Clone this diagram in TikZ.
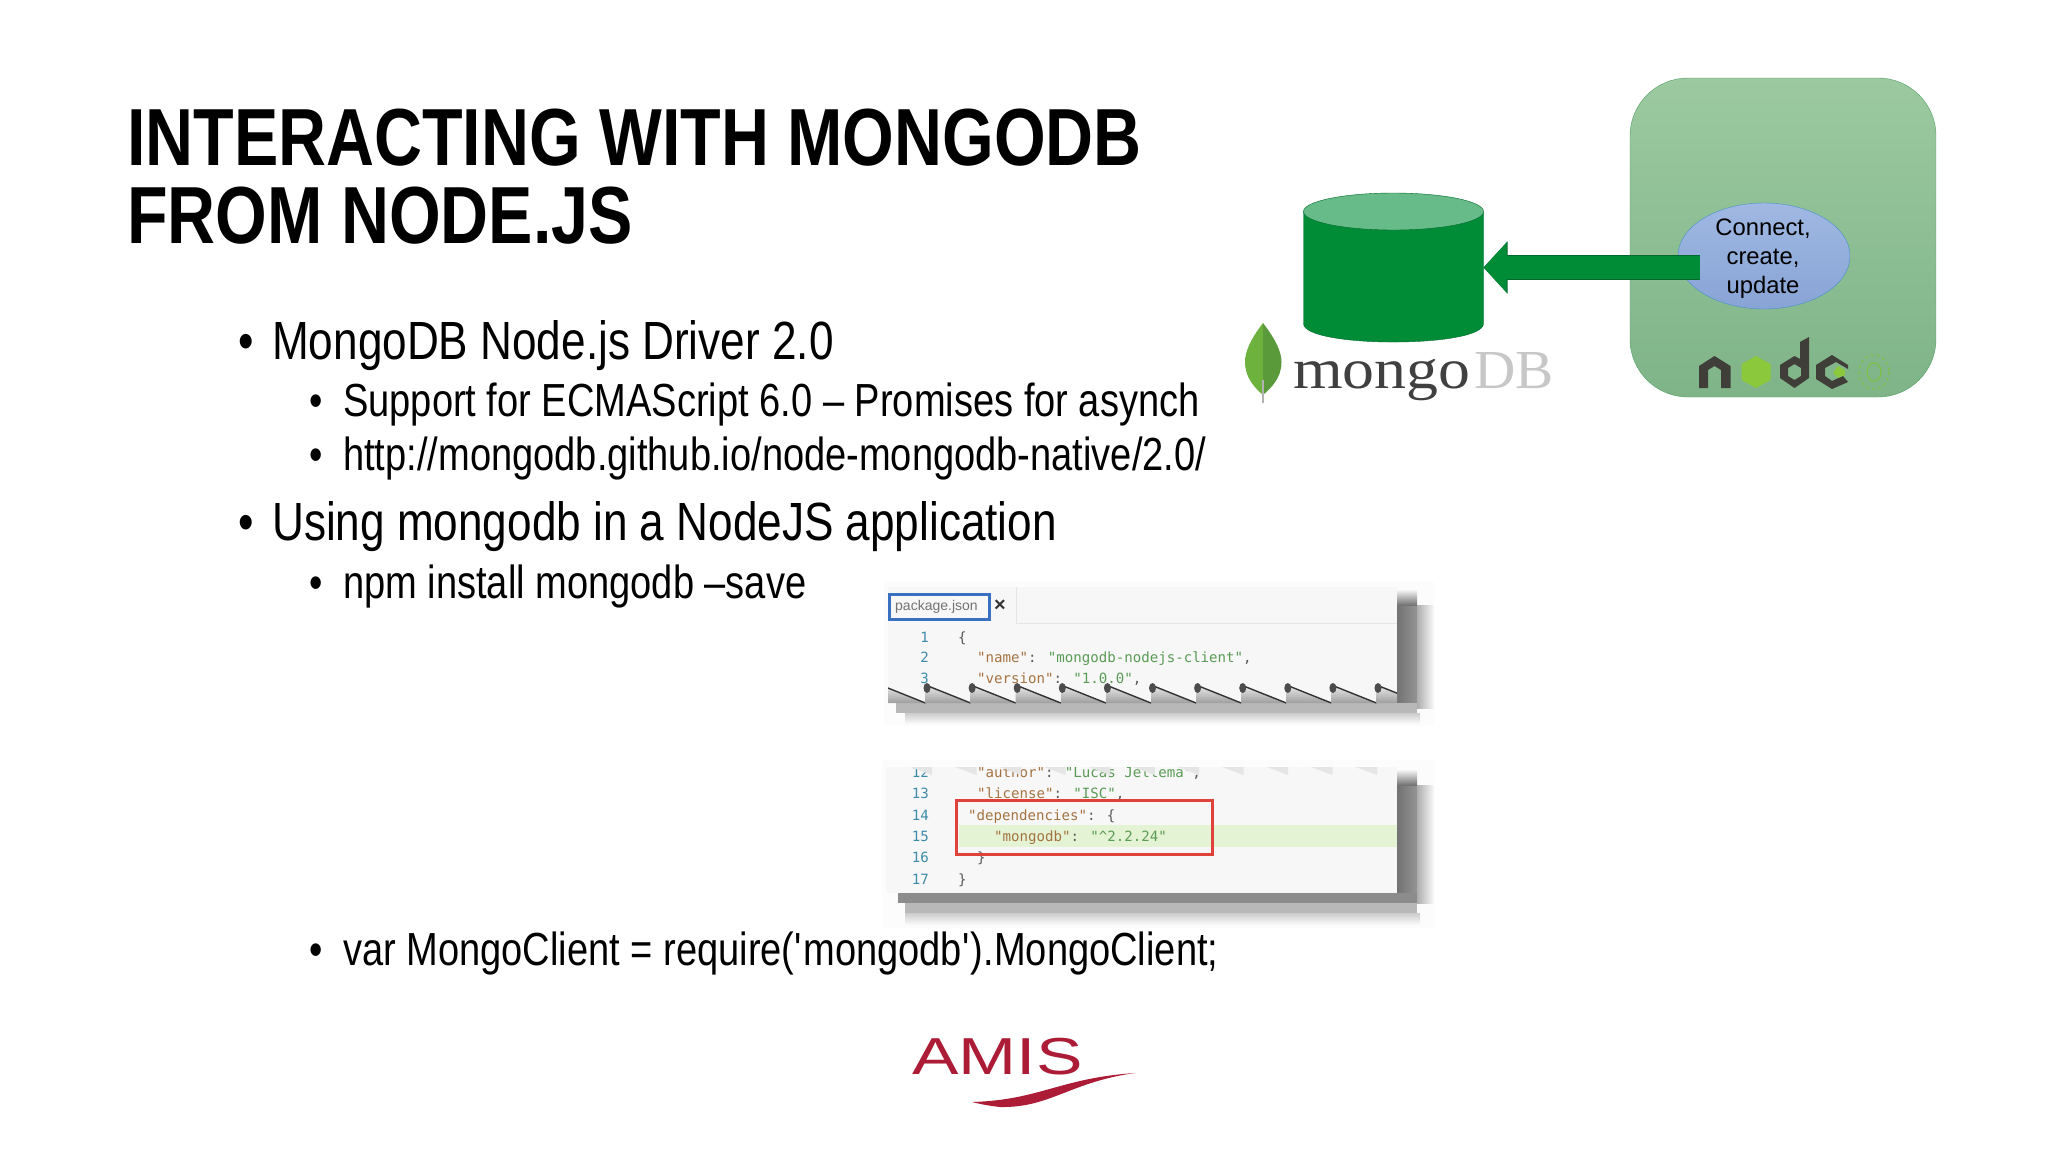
\documentclass[tikz,border=0pt]{standalone}
\usepackage{fontspec}
\setmainfont[FakeStretch=0.82]{Liberation Sans}
\newfontfamily\plainsans{Liberation Sans}
\newfontfamily\logoserif[FakeStretch=1.12]{Liberation Serif}
\newfontfamily\dbserif[FakeStretch=1.04]{Liberation Serif}
\newfontfamily\amisfont[FakeStretch=1.34]{Liberation Sans}
\newfontfamily\codefont{DejaVu Sans Mono}
\usetikzlibrary{arrows.meta}
\usetikzlibrary{shapes.geometric}
\definecolor{dbgreen}{RGB}{0, 140, 55}
\definecolor{dbdark}{RGB}{0, 105, 45}
\definecolor{dbtop}{RGB}{102, 187, 136}
\definecolor{appedge}{RGB}{80, 160, 100}
\definecolor{apptop}{RGB}{156, 201, 160}
\definecolor{appbottom}{RGB}{127, 180, 136}
\definecolor{calltop}{RGB}{160, 184, 226}
\definecolor{callbottom}{RGB}{136, 164, 214}
\definecolor{calledge}{RGB}{70, 145, 200}
\definecolor{nodedark}{RGB}{64, 62, 56}
\definecolor{nodelime}{RGB}{140, 200, 60}
\definecolor{leaflight}{RGB}{110, 178, 62}
\definecolor{leafdark}{RGB}{90, 154, 58}
\definecolor{keybrown}{RGB}{165, 115, 65}
\definecolor{valgreen}{RGB}{90, 155, 85}
\definecolor{linenr}{RGB}{60, 140, 170}
\definecolor{amisred}{RGB}{172, 28, 54}
\definecolor{tabblue}{RGB}{58, 112, 192}
\definecolor{boxred}{RGB}{222, 66, 58}
\definecolor{linehl}{RGB}{228, 243, 212}
\newcommand{\sz}[1]{\fontsize{#1}{#1}\selectfont}
\newcommand{\keyc}[1]{{\color{keybrown}#1}}
\newcommand{\valc}[1]{{\color{valgreen}#1}}
\tikzset{
	titletext/.style={anchor=base west, inner sep=0, font=\sz{81}\bfseries},
	bodyone/.style={anchor=base west, inner sep=0, font=\sz{53.8}},
	bodytwo/.style={anchor=base west, inner sep=0, font=\sz{46.4}},
	codetext/.style={anchor=base west, inner sep=0, font=\codefont\sz{14.1}, text=black!65},
	numtext/.style={anchor=base east, inner sep=0, font=\codefont\sz{14.1}, text=linenr},
	halo/.style={fill=black!1},
	panelfill/.style={fill=black!3},
}

\begin{document}
\begin{tikzpicture}[x=1pt,y=-1pt]

	\useasboundingbox (0,0) rectangle (2048,1152);
	\fill[white] (0,0) rectangle (2048,1152);

	% heading and bullets
	\node[titletext] (titleone) at (127,165) {INTERACTING WITH MONGODB};
	\node[titletext] (titletwo) at (127,243) {FROM NODE.JS};

	\node[bodyone] (bulletone) at (238,359.5) {•};
	\node[bodyone] (driver) at (272,359.5) {MongoDB Node.js Driver 2.0};
	\node[bodytwo] (bullettwo) at (309,416) {•};
	\node[bodytwo] (support) at (343,416) {Support for ECMAScript 6.0 – Promises for asynch};
	\node[bodytwo] (bulletthree) at (309,470.5) {•};
	\node[bodytwo] (github) at (343,470.5) {http://mongodb.github.io/node-mongodb-native/2.0/};
	\node[bodyone] (bulletfour) at (238,540.5) {•};
	\node[bodyone] (usingdb) at (272,540.5) {Using mongodb in a NodeJS application};
	\node[bodytwo] (bulletfive) at (309,598) {•};
	\node[bodytwo] (npm) at (343,598) {npm install mongodb –save};
	\node[bodytwo] (bulletsix) at (309,965) {•};
	\node[bodytwo] (require) at (343,965) {var MongoClient = require(\textquotesingle mongodb\textquotesingle).MongoClient;};

	% upper code panel
	\fill[halo] (884,582) rectangle (1434,726);
	\shade[left color=black!55, right color=black!42] (1397,605) rectangle (1417,703);
	\shade[top color=black!4, bottom color=black!55] (1397,590) rectangle (1417,605);
	\shade[left color=black!32, right color=black!2] (1417,605) rectangle (1434,708);
	\fill[black!28] (896,703) rectangle (1417,713);
	\shade[top color=black!20, bottom color=black!1] (905,713) rectangle (1420,724);
	\fill[panelfill] (888,587) rectangle (1397,703);
	\draw[black!10, thick] (1016,587) -- (1016,623) -- (1397,623);
	\node[draw=tabblue, line width=3, minimum width=100, minimum height=25, inner sep=0] (tabbox) at (939,607) {};
	\node[anchor=west, inner sep=0, font=\plainsans\sz{14}, text=black!55] (tabname) at (895,607) {package.json};
	\node[inner sep=0, font=\plainsans\bfseries\sz{20}, text=black!80] (tabclose) at (1000,606) {×};
	\node[numtext] (numone) at (929,642) {1};
	\node[codetext] (braceopen) at (958,642) {\{};
	\node[numtext] (numtwo) at (929,662) {2};
	\node[codetext] (namekey) at (977,662) {\keyc{"name"}: \valc{"mongodb-nodejs-client"},};
	\node[numtext] (numthree) at (929,683) {3};
	\node[codetext] (versionkey) at (977,683) {\keyc{"version"}: \valc{"1.0.0"},};

	% torn edge
	\begin{scope}
		\clip (888,670) rectangle (1397,703);
		\foreach \i in {-1,...,10}
		{
			\shade[top color=black!8, bottom color=black!38] (925.5+45.1*\i,685) -- (970.6+45.1*\i,703) -- (925.5+45.1*\i,703) -- cycle;
			\draw[black!80, line width=1.4] (925.5+45.1*\i,685) -- (970.6+45.1*\i,703);
			\fill[black!70] (927+45.1*\i,688) ellipse (3.5 and 5);
		}
	\end{scope}

	% lower code panel
	\fill[halo] (882,760) rectangle (1434,928);
	\shade[left color=black!55, right color=black!42] (1397,785) rectangle (1417,893);
	\shade[top color=black!4, bottom color=black!55] (1397,770) rectangle (1417,785);
	\shade[left color=black!32, right color=black!2] (1417,785) rectangle (1434,903);
	\fill[black!45] (898,893) rectangle (1417,903);
	\fill[black!28] (905,903) rectangle (1417,913);
	\shade[top color=black!20, bottom color=black!1] (905,913) rectangle (1420,925);
	\fill[panelfill] (886,767) rectangle (1397,893);
	\fill[linehl] (959,825) rectangle (1397,847);
	\begin{scope}
		\clip (886,767) rectangle (1397,893);
		\node[numtext] (numtwelve) at (929,777) {12};
		\node[codetext] (authorkey) at (977,777) {\keyc{"author"}: \valc{"Lucas Jellema"},};
		\foreach \i in {0,...,10}
			\fill[black!10] (908+44.5*\i,766) -- (932+44.5*\i,766) -- (932+44.5*\i,775) -- cycle;
	\end{scope}
	\node[numtext] (numthirteen) at (929,798) {13};
	\node[codetext] (licensekey) at (977,798) {\keyc{"license"}: \valc{"ISC"},};
	\node[numtext] (numfourteen) at (929,820) {14};
	\node[codetext] (depskey) at (968,820) {\keyc{"dependencies"}: \{};
	\node[numtext] (numfifteen) at (929,841) {15};
	\node[codetext] (mongokey) at (994,841) {\keyc{"mongodb"}: \valc{"\textasciicircum 2.2.24"}};
	\node[numtext] (numsixteen) at (929,862) {16};
	\node[codetext] (depsclose) at (977,862) {\}};
	\node[numtext] (numseventeen) at (929,884) {17};
	\node[codetext] (braceclose) at (958,884) {\}};
	\node[draw=boxred, line width=3, minimum width=256, minimum height=54, inner sep=0] (depsbox) at (1084,827) {};

	% application box with database
	\node[draw=appedge, top color=apptop, bottom color=appbottom, minimum width=306, minimum height=319, inner sep=0, rounded corners=58] (nodeapp) at (1783,237.5) {};
	\node[ellipse, draw=calledge, top color=calltop, bottom color=callbottom, minimum width=172, minimum height=106, inner sep=0] (connect) at (1764,256) {};
	\node[align=center, inner sep=0, font=\plainsans\fontsize{23.8}{29}\selectfont, text=black] (connecttext) at (1763,259) {Connect,\\create,\\update};
	\node[minimum width=180, minimum height=149, inner sep=0, outer sep=0] (mongo) at (1393.5,267.5) {};
	\draw[dbdark, fill=dbgreen] (1303.5,211.5) -- (1303.5,323.5) .. controls (1303.5,348.2) and (1483.5,348.2) .. (1483.5,323.5) -- (1483.5,211.5) -- cycle;
	\draw[dbdark, fill=dbtop] (1393.5,211.5) ellipse (90 and 18.5);
	\coordinate (arrowtail) at (1700,267.5);
	\draw[dbgreen, line width=23, -{Triangle[length=23,width=48]}, preaction={draw=dbdark, line width=25, -{Triangle[length=24,width=51]}}] (arrowtail) -- (mongo.east);

	% mongo logo
	\fill[leaflight] (1263,323) .. controls (1250,340) and (1245,352) .. (1245,362) .. controls (1245,378) and (1255,388) .. (1263,395) -- cycle;
	\fill[leafdark] (1263,323) .. controls (1276,340) and (1281.5,352) .. (1281.5,362) .. controls (1281.5,378) and (1271,388) .. (1263,395) -- cycle;
	\draw[black!30, line width=2] (1263,380) -- (1263,403);
	\node[anchor=base west, inner sep=0, font=\logoserif\sz{57}, text=black!75] (mongoword) at (1293,388) {mongo};
	\node[anchor=base west, inner sep=0, font=\dbserif\sz{55}, text=black!22] (dbword) at (1474,388) {DB};

	% node logo
	\fill[nodedark] (1699,388) -- (1699,366) -- (1714.5,356) -- (1730.5,366) -- (1730.5,388) -- (1721,388) -- (1721,370) -- (1714.5,366) -- (1708,370) -- (1708,388) -- cycle;
	\fill[nodelime] (1756,356) -- (1770.5,364) -- (1770.5,380) -- (1756,388) -- (1741.5,380) -- (1741.5,364) -- cycle;
	\fill[nodedark, even odd rule] (1800,342) -- (1809,337) -- (1809,378) -- (1794.5,388) -- (1780,378) -- (1780,365) -- (1794.5,356) -- (1800,359) -- cycle (1794.5,364) -- (1801,368) -- (1801,376) -- (1794.5,380) -- (1788,376) -- (1788,368) -- cycle;
	\fill[nodedark] (1848,382) -- (1832,389) -- (1816,379) -- (1816,365) -- (1832,355) -- (1848,365) -- (1848,369) -- (1836,362) -- (1825,368) -- (1825,376) -- (1832,381) -- (1843,376) -- cycle;
	\fill[nodelime] (1838,366) -- (1845,370) -- (1845,375) -- (1838,378) -- (1833,373) -- cycle;
	\draw[nodelime!80!appedge, line width=1.2, dashed] (1874,372) ellipse (15 and 17);
	\draw[nodelime!80!appedge, line width=1.2] (1874,372) ellipse (7 and 9);

	% company logo
	\node[anchor=base west, inner sep=0, font=\amisfont\sz{52}, text=amisred] (amis) at (912,1074) {AMIS};
	\fill[amisred] (972,1102) .. controls (1040,1100) and (1060,1078) .. (1135,1073) .. controls (1070,1082) and (1050,1108) .. (1000,1107) .. controls (990,1106) and (980,1104) .. (972,1102) -- cycle;

\end{tikzpicture}
\end{document}
